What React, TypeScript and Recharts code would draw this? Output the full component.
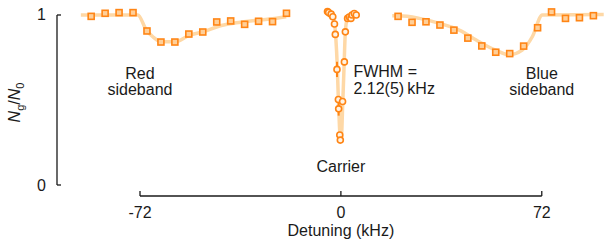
import React from "react"
import {
  ComposedChart,
  XAxis,
  YAxis,
  Line,
  Scatter,
  ErrorBar,
  ReferenceLine,
  ReferenceDot,
} from "recharts"

// measured points, x in kHz, y = Ng/N0
const redX = [-89.5, -84.5, -79.5, -74.5, -69.5, -64.5, -59.5, -54.5, -49.5, -44.5, -39.5, -34.5, -29.5, -24.5, -19.5]
const redY = [0.992, 1.01, 1.014, 1.014, 0.906, 0.841, 0.841, 0.888, 0.9, 0.959, 0.965, 0.945, 0.963, 0.961, 1.01]

const blueX = [20.5, 25.5, 30.5, 35.5, 40.5, 45.5, 50.5, 55.5, 60.5, 65.5, 70.5, 75.5, 80.5, 85.5, 90.5]
const blueY = [0.992, 0.957, 0.96, 0.941, 0.911, 0.864, 0.818, 0.781, 0.773, 0.817, 0.925, 1.018, 0.98, 0.984, 0.996]

const carrierX = [-4.8, -4.4, -3.5, -2.9, -2.3, -2.0, -1.4, -0.9, -0.8, -0.4, -0.2, 0.6, 1.25, 1.6, 2.4, 3.0, 3.6, 4.0, 4.8, 5.5]
const carrierY = [1.02, 1.015, 1.005, 0.99, 0.947, 0.886, 0.68, 0.503, 0.448, 0.294, 0.264, 0.491, 0.724, 0.901, 0.98, 0.988, 0.98, 1.0, 1.009, 1.0]
const carrierErr = [0.01, 0.01, 0.01, 0.01, 0.015, 0.015, 0.045, 0.02, 0.04, 0.015, 0.015, 0.02, 0.02, 0.015, 0.01, 0.01, 0.01, 0.01, 0.01, 0.01]

// fit curves
const redFitX = [-93.2, -79.2, -72.8, -69.7, -67.4, -64.3, -59.5, -54.2, -49.5, -43.5, -37.5, -31.7, -25.6, -19.6]
const redFitY = [1.0, 1.0, 1.0, 0.911, 0.872, 0.842, 0.842, 0.882, 0.901, 0.935, 0.954, 0.966, 0.976, 0.99]

const blueFitX = [18.4, 20.9, 28.1, 35.3, 42.4, 49.6, 55.5, 60.3, 65.0, 68.6, 72.2, 94.2]
const blueFitY = [0.995, 0.995, 0.98, 0.951, 0.911, 0.842, 0.793, 0.766, 0.793, 0.872, 1.0, 1.003]

const carrierFitX = [-5.0, -3.6, -2.8, -2.2, -1.8, -1.3, -0.9, -0.5, -0.15, 0.2, 0.6, 1.1, 1.5, 2.0, 2.8, 4.0, 5.5]
const carrierFitY = [1.0, 1.0, 0.98, 0.94, 0.86, 0.7, 0.5, 0.34, 0.26, 0.28, 0.45, 0.68, 0.87, 0.96, 0.99, 1.0, 1.0]

const xTicks = [-72, 0, 72]
const yTicks = [0, 1]

const zip = (xs: number[], ys: number[]) => xs.map((x, i) => ({ x, y: ys[i] }))

const redData = zip(redX, redY)
const blueData = zip(blueX, blueY)
const carrierData = carrierX.map((x, i) => ({ x, y: carrierY[i], err: carrierErr[i] }))
const redFit = zip(redFitX, redFitY)
const blueFit = zip(blueFitX, blueFitY)
const carrierFit = zip(carrierFitX, carrierFitY)

const INK = "#1a1a1a"
const ORANGE = "#ff8515"
const MARKER_FILL = "#ffcf98"
const FIT = "#fed8a6"
const X_DOMAIN = [-101.75, 94.66]
const Y_DOMAIN = [-0.0647, 1.0588]

function Square(props: any) {
  const { cx, cy } = props
  if (cx == null || cy == null) return null
  return <rect x={cx - 3} y={cy - 3} width={6} height={6} fill={MARKER_FILL} stroke={ORANGE} strokeWidth={1.6} />
}

function Ring(props: any) {
  const { cx, cy } = props
  if (cx == null || cy == null) return null
  return <circle cx={cx} cy={cy} r={3} fill="#fff3e3" stroke={ORANGE} strokeWidth={1.6} />
}

function XTick({ x, y, payload }: any) {
  return (
    <g>
      <line x1={x} x2={x} y1={y} y2={y - 5} stroke={INK} strokeWidth={1.3} />
      <text x={x} y={y + 22} textAnchor="middle" fontSize={16} fill={INK}>
        {payload.value}
      </text>
    </g>
  )
}

function YTick({ x, y, payload }: any) {
  return (
    <g>
      <line x1={x} x2={x + 4} y1={y} y2={y} stroke={INK} strokeWidth={1.3} />
      <text x={x - 11} y={y + 5.5} textAnchor="end" fontSize={16} fill={INK}>
        {payload.value}
      </text>
    </g>
  )
}

function YTitle({ viewBox }: any) {
  const cx = viewBox.x + 8
  const cy = viewBox.y + viewBox.height / 2 + 2
  return (
    <text x={cx} y={cy} transform={`rotate(-90, ${cx}, ${cy})`} textAnchor="middle" fontSize={16} fill={INK}>
      <tspan fontStyle="italic">N</tspan>
      <tspan fontSize={11} dy={4}>g</tspan>
      <tspan dy={-4}>/</tspan>
      <tspan fontStyle="italic">N</tspan>
      <tspan fontSize={11} dy={4}>0</tspan>
    </text>
  )
}

function textShape(lines: string[], anchor: "start" | "middle", dy = 16, shift = 0) {
  return (p: any) => (
    <text x={p.cx} y={p.cy + shift} textAnchor={anchor} fontSize={16} fill={INK}>
      {lines.map((l, i) => (
        <tspan key={i} x={p.cx} dy={i === 0 ? 0 : dy}>
          {l}
        </tspan>
      ))}
    </text>
  )
}

export default function App() {
  return (
    <div style={{ width: 605, height: 240, fontFamily: "'Liberation Sans', Arial, sans-serif" }}>
      <style>{"body{margin:0}"}</style>
      <ComposedChart width={605} height={240} margin={{ top: 5, right: 0, bottom: 0, left: 12 }}>
        <XAxis
          dataKey="x"
          type="number"
          domain={X_DOMAIN}
          allowDataOverflow
          ticks={xTicks}
          axisLine={false}
          tickLine={false}
          tickSize={0}
          tickMargin={0}
          height={44}
          tick={<XTick />}
          interval={0}
        />
        <YAxis
          dataKey="y"
          type="number"
          domain={Y_DOMAIN}
          allowDataOverflow
          ticks={yTicks}
          axisLine={false}
          tickLine={false}
          tickSize={0}
          tickMargin={0}
          width={45}
          tick={<YTick />}
          interval={0}
          label={<YTitle />}
        />
        <ReferenceLine
          segment={[{ x: X_DOMAIN[0], y: 0 }, { x: X_DOMAIN[0], y: 1 }]}
          stroke={INK}
          strokeWidth={1.3}
          ifOverflow="visible"
        />
        <ReferenceLine
          segment={[{ x: -72, y: Y_DOMAIN[0] }, { x: 72, y: Y_DOMAIN[0] }]}
          stroke={INK}
          strokeWidth={1.3}
          ifOverflow="visible"
        />

        <Line data={redFit} dataKey="y" type="monotone" stroke={FIT} strokeWidth={3.5} dot={false} isAnimationActive={false} />
        <Line data={blueFit} dataKey="y" type="monotone" stroke={FIT} strokeWidth={3.5} dot={false} isAnimationActive={false} />
        <Line data={carrierFit} dataKey="y" type="monotone" stroke={FIT} strokeWidth={3.5} dot={false} isAnimationActive={false} />

        <Scatter data={redData} dataKey="y" shape={<Square />} isAnimationActive={false} />
        <Scatter data={blueData} dataKey="y" shape={<Square />} isAnimationActive={false} />
        <Scatter data={carrierData} dataKey="y" shape={<Ring />} isAnimationActive={false}>
          <ErrorBar dataKey="err" direction="y" width={0} stroke={ORANGE} strokeWidth={2} />
        </Scatter>

        <ReferenceDot x={-72} y={0.624} r={0} ifOverflow="visible" shape={textShape(["Red", "sideband"], "middle")} />
        <ReferenceDot x={72} y={0.624} r={0} ifOverflow="visible" shape={textShape(["Blue", "sideband"], "middle")} />
        <ReferenceDot x={4.5} y={0.635} r={0} ifOverflow="visible" shape={textShape(["FWHM =", "2.12(5)\u2009kHz"], "start", 17)} />
        <ReferenceDot x={0} y={0.076} r={0} ifOverflow="visible" shape={textShape(["Carrier"], "middle")} />
        <ReferenceDot x={0} y={Y_DOMAIN[0]} r={0} ifOverflow="visible" shape={textShape(["Detuning (kHz)"], "middle", 16, 40)} />
      </ComposedChart>
    </div>
  )
}
